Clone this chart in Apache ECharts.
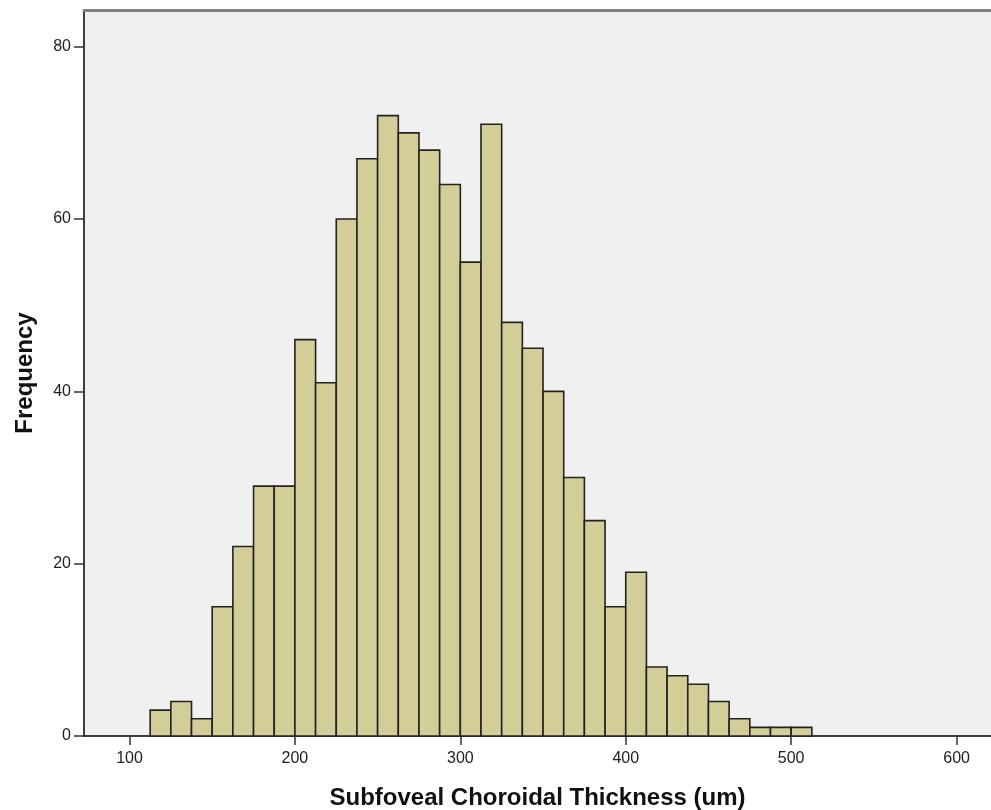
<!DOCTYPE html>
<html>
<head>
<meta charset="utf-8">
<script src="https://cdn.jsdelivr.net/npm/echarts@6/dist/echarts.min.js"></script>
<style>html,body{margin:0;padding:0;background:#fff;}#c{width:991px;height:810px;}</style>
</head>
<body>
<div id="c"></div>
<script>
const binStart = [112.5,125,137.5,150,162.5,175,187.5,200,212.5,225,237.5,250,262.5,275,287.5,300,312.5,325,337.5,350,362.5,375,387.5,400,412.5,425,437.5,450,462.5,475,487.5,500];
const binWidth = 12.5;
const counts = [3,4,2,15,22,29,29,46,41,60,67,72,70,68,64,55,71,48,45,40,30,25,15,19,8,7,6,4,2,1,1,1];
const xTicks = [100,200,300,400,500,600];
const yTicks = [0,20,40,60,80];

const data = binStart.map((s,i)=>[s, s+binWidth, counts[i]]);
const FONT = 'Arial, Liberation Sans, sans-serif';
const chart = echarts.init(document.getElementById('c'));
chart.setOption({
  animation:false,
  backgroundColor:'#ffffff',
  grid:{left:84,right:0,top:10,bottom:74,show:true,backgroundColor:'#F0F0F0',borderWidth:0,outerBoundsMode:'none',containLabel:false},
  xAxis:[{
    type:'value',min:72.5,max:620.8,
    splitLine:{show:false},
    axisLine:{show:true,lineStyle:{color:'#000',width:1.5}},
    axisTick:{show:true,length:9,lineStyle:{color:'#333',width:1.5},customValues:xTicks},
    axisLabel:{customValues:xTicks,color:'#222',fontSize:16,fontFamily:FONT,margin:15},
    name:'Subfoveal Choroidal Thickness (um)',nameLocation:'middle',nameGap:50,
    nameTextStyle:{fontSize:24,fontWeight:'bold',color:'#111',fontFamily:FONT}
  },{
    type:'value',position:'top',min:72.5,max:620.8,
    axisLine:{show:true,lineStyle:{color:'#808080',width:3}},
    axisTick:{show:false},axisLabel:{show:false},splitLine:{show:false}
  }],
  yAxis:{
    type:'value',min:0,max:84.26,
    splitLine:{show:false},
    axisLine:{show:true,lineStyle:{color:'#000',width:1.5}},
    axisTick:{show:true,length:10,lineStyle:{color:'#333',width:1.5},customValues:yTicks},
    axisLabel:{customValues:yTicks,color:'#222',fontSize:16,fontFamily:FONT,margin:13},
    name:'Frequency',nameLocation:'middle',nameGap:47,
    nameTextStyle:{fontSize:24,fontWeight:'bold',color:'#111',fontFamily:FONT}
  },
  series:[{
    type:'custom',
    xAxisIndex:0,
    data:data,
    encode:{x:[0,1],y:2},
    renderItem:function(params,api){
      const p0 = api.coord([api.value(0), api.value(2)]);
      const p1 = api.coord([api.value(1), 0]);
      return {
        type:'rect',
        shape:{x:p0[0],y:p0[1],width:p1[0]-p0[0],height:p1[1]-p0[1]},
        style:{fill:'#D3CE97',stroke:'#222',lineWidth:1.6}
      };
    }
  }]
});
</script>
</body>
</html>
